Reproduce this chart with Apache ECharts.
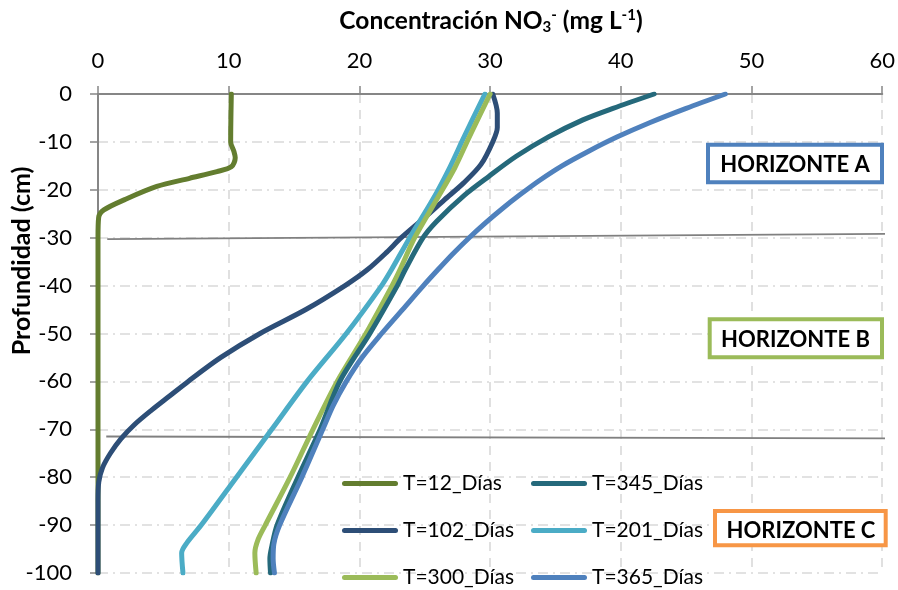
<!DOCTYPE html>
<html>
<head>
<meta charset="utf-8">
<script src="https://cdn.jsdelivr.net/npm/echarts@6/dist/echarts.min.js"></script>
<style>
  html, body { margin: 0; padding: 0; background: #fff; }
  #chart { width: 898px; height: 590px; }
</style>
</head>
<body>
<div id="chart"></div>
<script>
// Nitrate concentration profiles: [concentration (mg/L), depth (cm)]
const seriesNames = ['T=12_Días', 'T=102_Días', 'T=201_Días', 'T=300_Días', 'T=345_Días', 'T=365_Días'];
const seriesColors = ['#637D2F', '#2D4E77', '#4BACC6', '#9BBB59', '#25697B', '#4F81BD'];

const t12 = [[10.2, 0], [10.15, -10], [10.4, -12], [10.5, -13.3], [10.2, -15.2], [9.1, -16.2], [7.0, -17.6],
  [4.5, -19.3], [2.0, -22.1], [0.45, -24.2], [0.05, -25.8], [0, -30], [0, -100]];
const t102 = [[30.2, 0], [30.55, -4], [30.55, -7], [30.2, -10], [29.3, -14.7], [28.0, -18.5], [26.5, -22.1],
  [24.9, -26], [23.2, -30], [22.1, -33], [20.6, -36.7], [18.9, -40], [15.9, -45], [12.4, -50], [9.4, -55],
  [6.9, -60], [5.5, -63], [4.1, -66], [2.8, -69], [1.75, -72], [0.95, -75], [0.35, -78], [0.06, -81],
  [0, -85], [0, -100]];
const t201 = [[29.6, 0], [28.0, -9], [26.9, -15.4], [25.6, -22.1], [23.85, -30], [22.45, -36.7], [21.7, -40],
  [19.0, -50], [16.0, -60], [13.3, -70], [10.6, -80], [7.9, -90], [6.8, -93.7], [6.4, -95.8], [6.5, -100]];
const t300 = [[30.0, 0], [28.4, -9], [27.3, -15.4], [25.9, -22.1], [24.23, -30], [23.1, -36.7], [22.5, -40],
  [20.5, -50], [18.3, -60], [16.45, -70], [14.7, -80], [12.8, -90], [12.25, -93], [12.0, -95.8], [12.1, -100]];
const t345 = [[42.55, 0], [39.4, -3], [37.1, -5.4], [34.5, -8.9], [32.0, -13], [29.9, -17.2], [28.0, -21.2],
  [25.9, -26.6], [24.87, -30], [23.5, -36.7], [22.9, -40], [20.8, -50], [18.5, -60], [17.0, -70],
  [15.3, -80], [13.7, -90], [13.3, -94.4], [13.15, -97], [13.2, -100]];
const t365 = [[48.0, 0], [45.0, -3], [42.2, -6], [39.7, -9], [37.5, -12], [35.5, -15], [33.8, -18],
  [32.3, -21], [30.9, -24], [29.6, -27], [28.4, -30], [27.1, -33.5], [26.0, -36.7], [24.9, -40],
  [23.3, -45], [21.7, -50], [20.2, -55], [19.0, -60], [18.0, -65], [17.2, -70], [15.6, -80], [13.9, -90],
  [13.45, -94], [13.4, -97], [13.5, -100]];
const profiles = [t12, t102, t201, t300, t345, t365];

// Soil horizon boundaries (drawn across the plot and past its right edge)
const boundaryAB = [[0.71, -30.3], [61.12, -29.2]];
const boundaryBC = [[0.63, -71.5], [61.12, -71.9]];

const horizonLabels = ['HORIZONTE A', 'HORIZONTE B', 'HORIZONTE C'];
const horizonColors = ['#4F81BD', '#9BBB59', '#F79646'];

const xTitle = 'Concentración NO{sub|3}{sup|-} (mg L{sup|-1})';
const yTitle = 'Profundidad (cm)';

const FONT = 'Lato, "Open Sans", sans-serif';
// capsule shape used as the legend key (a thick line with round ends)
const KEY_ICON = 'path://M2.5,0 H53.5 A2.5,2.5 0 0 1 53.5,5 H2.5 A2.5,2.5 0 0 1 2.5,0 Z';

const chart = echarts.init(document.getElementById('chart'), null, { renderer: 'canvas' });

const lineSeries = profiles.map((data, i) => ({
  name: seriesNames[i],
  type: 'line',
  data: data,
  smooth: 0.3,
  symbol: 'none',
  showSymbol: false,
  lineStyle: { width: 5, color: seriesColors[i], cap: 'round', join: 'round' },
  itemStyle: { color: seriesColors[i] },
  emphasis: { disabled: true },
  animation: false
}));

const boundarySeries = [boundaryAB, boundaryBC].map((data, i) => ({
  name: 'limite' + i,
  type: 'line',
  data: data,
  clip: false,
  symbol: 'none',
  showSymbol: false,
  lineStyle: { width: 1.8, color: '#808080' },
  emphasis: { disabled: true },
  animation: false,
  z: 1
}));

// Horizon label boxes
const boxes = [
  { x: 708, y: 144.7, w: 174, h: 37.6, cx: 795, cy: 164.5 },
  { x: 709.7, y: 319.3, w: 172.3, h: 38, cx: 795.5, cy: 339.5 },
  { x: 715, y: 511, w: 170.7, h: 34.3, cx: 801, cy: 531 }
];
const boxGraphics = [];
boxes.forEach((b, i) => {
  boxGraphics.push({
    type: 'rect',
    shape: { x: b.x, y: b.y, width: b.w, height: b.h },
    style: { fill: '#fff', stroke: horizonColors[i], lineWidth: 4 },
    z: 100
  });
  boxGraphics.push({
    type: 'text',
    x: b.cx, y: b.cy,
    style: {
      text: horizonLabels[i], fill: '#000', fontFamily: FONT, fontWeight: 'bold', fontSize: 22,
      align: 'center', verticalAlign: 'middle'
    },
    z: 101
  });
});

const legendCommon = {
  orient: 'vertical',
  padding: 0,
  icon: KEY_ICON,
  itemWidth: 56,
  itemHeight: 5,
  itemGap: 25,
  itemTextGap: 3,
  textStyle: { fontFamily: FONT, fontSize: 21, color: '#000', lineHeight: 22 },
  selectedMode: false
};

chart.setOption({
  backgroundColor: '#fff',
  animation: false,
  grid: { left: 98, right: 15, top: 94, bottom: 17 },
  xAxis: {
    type: 'value',
    position: 'top',
    min: 0, max: 60, interval: 10,
    axisLine: { show: true, onZero: false, lineStyle: { color: '#868686', width: 2 } },
    axisTick: { show: true, length: 8, lineStyle: { color: '#868686', width: 1.5 } },
    axisLabel: { fontFamily: FONT, fontSize: 22, color: '#000', margin: 22 },
    splitLine: { show: true, lineStyle: { color: '#d9d9d9', width: 1.6, type: [9, 7] } }
  },
  yAxis: {
    type: 'value',
    min: -100, max: 0, interval: 10,
    axisLine: { show: true, onZero: false, lineStyle: { color: '#868686', width: 2 } },
    axisTick: { show: true, length: 8, lineStyle: { color: '#868686', width: 1.5 } },
    axisLabel: { fontFamily: FONT, fontSize: 22, color: '#000', margin: 26 },
    splitLine: { show: true, lineStyle: { color: '#d9d9d9', width: 1.6, type: [10, 5, 2, 5] } }
  },
  legend: [
    Object.assign({}, legendCommon, { left: 342, top: 472.5, data: [seriesNames[0], seriesNames[1], seriesNames[3]] }),
    Object.assign({}, legendCommon, { left: 531, top: 472.5, data: [seriesNames[4], seriesNames[2], seriesNames[5]] })
  ],
  graphic: [
    {
      type: 'text',
      x: 491, y: 21,
      style: {
        text: xTitle,
        fill: '#000', fontFamily: FONT, fontWeight: 'bold', fontSize: 24.5,
        align: 'center', verticalAlign: 'middle',
        rich: {
          sub: { fontFamily: FONT, fontWeight: 'bold', fontSize: 15, fill: '#000', padding: [12, 0, 0, 0] },
          sup: { fontFamily: FONT, fontWeight: 'bold', fontSize: 15, fill: '#000', padding: [0, 0, 12, 0] }
        }
      }
    },
    {
      type: 'text',
      x: 22, y: 261,
      rotation: Math.PI / 2,
      style: {
        text: yTitle,
        fill: '#000', fontFamily: FONT, fontWeight: 'bold', fontSize: 25,
        align: 'center', verticalAlign: 'middle'
      }
    }
  ].concat(boxGraphics),
  series: boundarySeries.concat(lineSeries)
});
</script>
</body>
</html>
